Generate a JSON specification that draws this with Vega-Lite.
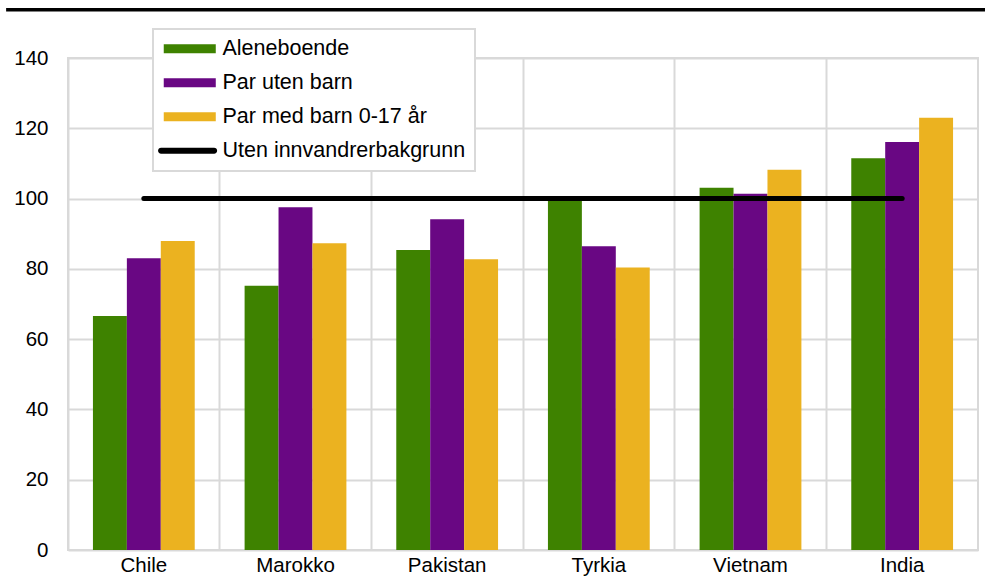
{
  "$schema": "https://vega.github.io/schema/vega-lite/v6.json",
  "autosize": {"type": "none"},
  "padding": {"left": 68, "top": 58, "right": 7, "bottom": 27},
  "width": 910,
  "height": 492,
  "background": "white",
  "config": {
    "font": "Liberation Sans",
    "view": {"stroke": "#d9d9d9", "strokeWidth": 2},
    "axis": {"labelFont": "Liberation Sans", "labelColor": "#000000", "labelFontSize": 20.5, "gridColor": "#d9d9d9", "gridWidth": 2, "gridOpacity": 1}
  },
  "datasets": {
    "bars": [
      {"land": "Chile", "gruppe": "Aleneboende", "verdi": 66.6},
      {"land": "Chile", "gruppe": "Par uten barn", "verdi": 83.0},
      {"land": "Chile", "gruppe": "Par med barn 0-17 år", "verdi": 87.9},
      {"land": "Marokko", "gruppe": "Aleneboende", "verdi": 75.2},
      {"land": "Marokko", "gruppe": "Par uten barn", "verdi": 97.5},
      {"land": "Marokko", "gruppe": "Par med barn 0-17 år", "verdi": 87.3},
      {"land": "Pakistan", "gruppe": "Aleneboende", "verdi": 85.4},
      {"land": "Pakistan", "gruppe": "Par uten barn", "verdi": 94.1},
      {"land": "Pakistan", "gruppe": "Par med barn 0-17 år", "verdi": 82.7},
      {"land": "Tyrkia", "gruppe": "Aleneboende", "verdi": 100.2},
      {"land": "Tyrkia", "gruppe": "Par uten barn", "verdi": 86.4},
      {"land": "Tyrkia", "gruppe": "Par med barn 0-17 år", "verdi": 80.4},
      {"land": "Vietnam", "gruppe": "Aleneboende", "verdi": 103.1},
      {"land": "Vietnam", "gruppe": "Par uten barn", "verdi": 101.4},
      {"land": "Vietnam", "gruppe": "Par med barn 0-17 år", "verdi": 108.2},
      {"land": "India", "gruppe": "Aleneboende", "verdi": 111.5},
      {"land": "India", "gruppe": "Par uten barn", "verdi": 116.1},
      {"land": "India", "gruppe": "Par med barn 0-17 år", "verdi": 123.0}
    ],
    "ref": [
      {"gruppe": "Uten innvandrerbakgrunn", "fra": "Chile", "til": "India", "verdi": 100}
    ]
  },
  "layer": [
    {
      "layer": [
        {
          "data": {"name": "bars"},
          "mark": {"type": "bar", "clip": false},
          "encoding": {
            "x": {
              "field": "land", "type": "nominal",
              "scale": {"domain": ["Chile", "Marokko", "Pakistan", "Tyrkia", "Vietnam", "India"], "paddingInner": 0, "paddingOuter": 0},
              "axis": {"title": null, "labelAngle": 0, "ticks": false, "domain": false, "grid": true, "bandPosition": 0, "labelPadding": 5}
            },
            "xOffset": {
              "field": "gruppe", "type": "nominal",
              "sort": ["Aleneboende", "Par uten barn", "Par med barn 0-17 år"],
              "scale": {"paddingInner": 0, "paddingOuter": 0.735}
            },
            "y": {
              "field": "verdi", "type": "quantitative",
              "scale": {"domain": [0, 140], "nice": false},
              "axis": {"title": null, "values": [0, 20, 40, 60, 80, 100, 120, 140], "ticks": false, "domain": false, "labelPadding": 20}
            },
            "color": {
              "field": "gruppe", "type": "nominal",
              "scale": {
                "domain": ["Aleneboende", "Par uten barn", "Par med barn 0-17 år", "Uten innvandrerbakgrunn"],
                "range": ["#3E8200", "#690783", "#EBB220", "#000000"]
              },
              "legend": {
                "title": null,
                "orient": "none",
                "legendX": 85,
                "legendY": -29,
                "padding": 9,
                "strokeColor": "#d9d9d9",
                "fillColor": "white",
                "labelFont": "Liberation Sans",
                "labelFontSize": 21.5,
                "labelColor": "#000000",
                "labelOffset": 39,
                "rowPadding": 11,
                "symbolSize": 324,
                "symbolStrokeWidth": 0,
                "labelLimit": 400,
                "encode": {
                  "legend": {"update": {"strokeWidth": {"value": 2}}},
                  "symbols": {
                    "update": {
                      "shape": {"signal": "datum.value === 'Uten innvandrerbakgrunn' ? 'M -1.3 -0.33 H 4.6 A 0.33 0.33 0 0 1 4.6 0.33 H -1.3 A 0.33 0.33 0 0 1 -1.3 -0.33 Z' : 'M -1 -0.5 H 4.78 V 0.5 H -1 Z'"},
                      "fill": {"signal": "scale('color', datum.value)"},
                      "strokeWidth": {"value": 0},
                      "opacity": {"value": 1}
                    }
                  }
                }
              }
            }
          }
        },
        {
          "data": {"name": "ref"},
          "mark": {"type": "rule", "strokeWidth": 5, "strokeCap": "round", "clip": false},
          "encoding": {
            "x": {"field": "fra", "type": "nominal"},
            "x2": {"field": "til"},
            "y": {"field": "verdi", "type": "quantitative"},
            "color": {"field": "gruppe", "type": "nominal"}
          }
        }
      ]
    },
    {
      "data": {"values": [{}]},
      "mark": {"type": "rule", "color": "black", "strokeWidth": 3.5, "clip": false},
      "encoding": {
        "x": {"datum": -0.068, "type": "quantitative", "scale": {"domain": [0, 1], "nice": false, "zero": false}, "axis": null},
        "x2": {"datum": 1.008},
        "y": {"datum": 153.7, "type": "quantitative", "scale": {"domain": [0, 140], "nice": false}}
      }
    }
  ],
  "resolve": {"scale": {"x": "independent"}}
}
